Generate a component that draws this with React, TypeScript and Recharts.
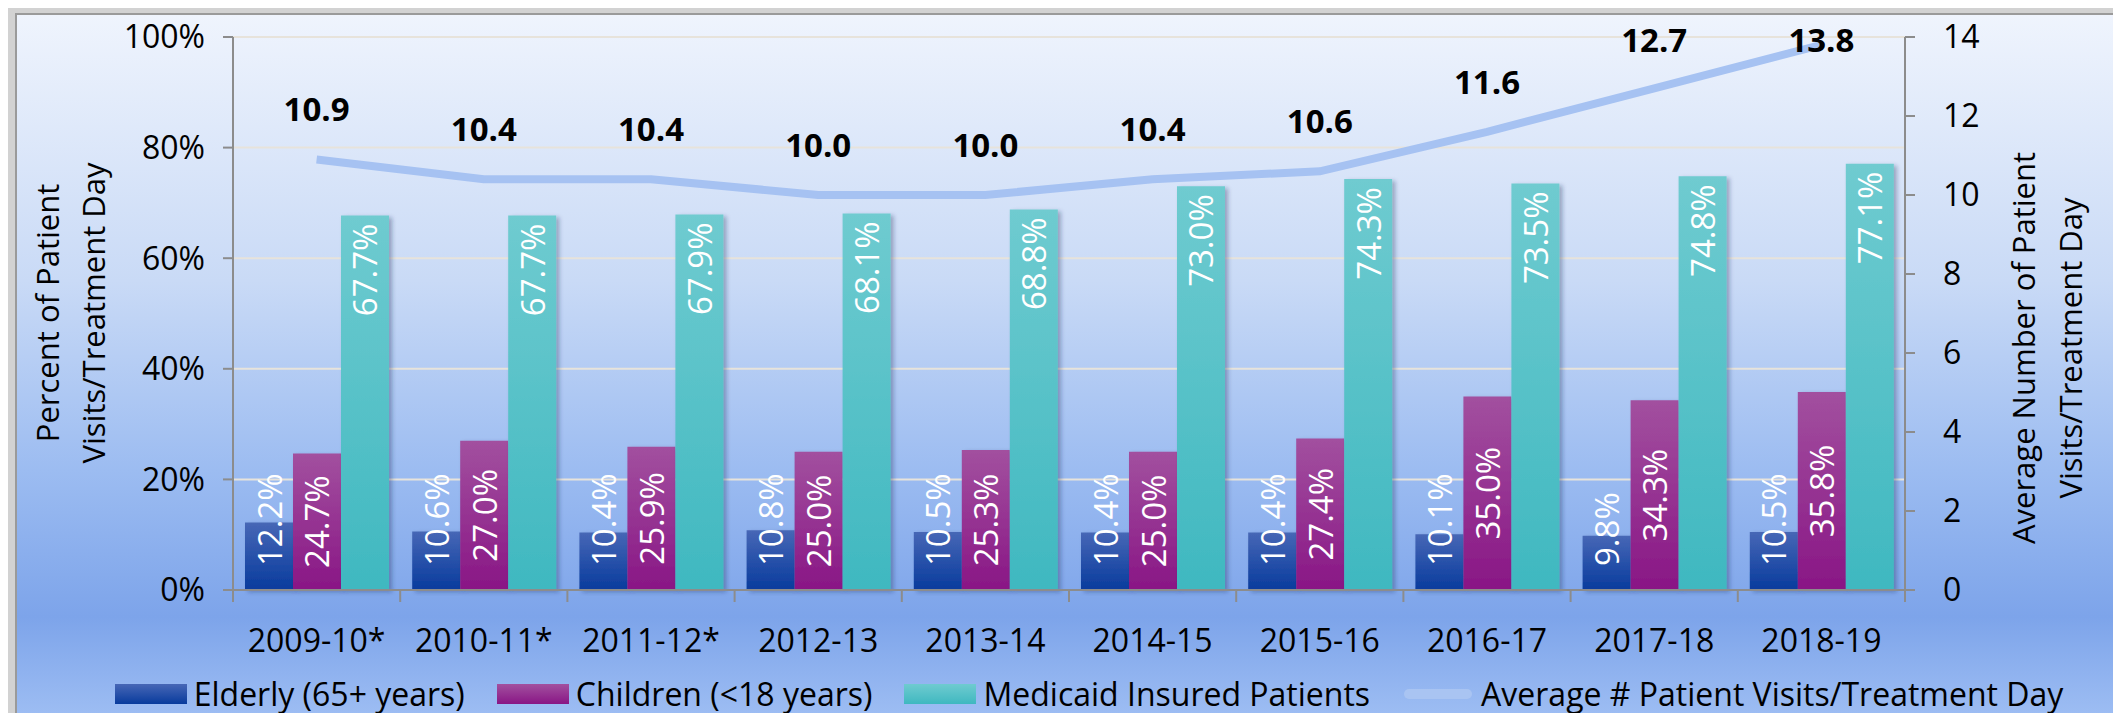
import { Bar, CartesianGrid, ComposedChart, LabelList, Legend, Line, XAxis, YAxis } from 'recharts';

const years = ['2009-10*', '2010-11*', '2011-12*', '2012-13', '2013-14', '2014-15', '2015-16', '2016-17', '2017-18', '2018-19'];
const elderly = [12.2, 10.6, 10.4, 10.8, 10.5, 10.4, 10.4, 10.1, 9.8, 10.5];
const children = [24.7, 27.0, 25.9, 25.0, 25.3, 25.0, 27.4, 35.0, 34.3, 35.8];
const medicaid = [67.7, 67.7, 67.9, 68.1, 68.8, 73.0, 74.3, 73.5, 74.8, 77.1];
const avgVisits = [10.9, 10.4, 10.4, 10.0, 10.0, 10.4, 10.6, 11.6, 12.7, 13.8];
const pctTicks = [0, 20, 40, 60, 80, 100];
const visitTicks = [0, 2, 4, 6, 8, 10, 12, 14];

const legendItems = [
  { name: 'Elderly (65+ years)', fill: 'url(#gElderly)', kind: 'bar' },
  { name: 'Children (<18 years)', fill: 'url(#gChildren)', kind: 'bar' },
  { name: 'Medicaid Insured Patients', fill: 'url(#gMedicaid)', kind: 'bar' },
  { name: 'Average # Patient Visits/Treatment Day', fill: '#a9c4f2', kind: 'line' },
];

const data = years.map((year, i) => ({
  year,
  elderly: elderly[i],
  children: children[i],
  medicaid: medicaid[i],
  visits: avgVisits[i],
}));

const FONT = '"Open Sans", "Noto Sans", sans-serif';
const AXIS = '#8c8c8c';
const BAND = 1672 / years.length;

function BarText(props: any) {
  const { x, y, width, height, value, pos } = props;
  const cx = x + width / 2;
  const bottom = y + height;
  let ty = bottom - 24;
  let anchor = 'start';
  if (pos === 'center') {
    ty = y + height / 2;
    anchor = 'middle';
  } else if (pos === 'end') {
    ty = y + 8;
    anchor = 'end';
  }
  return (
    <text
      x={cx}
      y={ty}
      transform={`rotate(-90, ${cx}, ${ty})`}
      textAnchor={anchor}
      dominantBaseline="central"
      fill="#fff"
      fontSize={33}
      fontFamily={FONT}
    >
      {`${Number(value).toFixed(1)}%`}
    </text>
  );
}

function LineText(props: any) {
  const { x, y, value } = props;
  const ty = Math.max(y - 38, 37);
  return (
    <text x={x} y={ty} textAnchor="middle" fontSize={33} fontWeight={700} fontFamily={FONT} fill="#000">
      {Number(value).toFixed(1)}
    </text>
  );
}

function CategoryTick(props: any) {
  const { x, y, payload, index } = props;
  const half = BAND / 2;
  return (
    <g>
      <line x1={x - half} x2={x - half} y1={y} y2={y + 12} stroke={AXIS} strokeWidth={2} />
      {index === years.length - 1 && <line x1={x + half} x2={x + half} y1={y} y2={y + 12} stroke={AXIS} strokeWidth={2} />}
      <text x={x} y={y + 62} textAnchor="middle" fontSize={32} fontFamily={FONT} fill="#000">
        {payload.value}
      </text>
    </g>
  );
}

function AxisTitle({ viewBox, lines, dx, cy }: any) {
  return (
    <g>
      {lines.map((t: string, i: number) => {
        const x = viewBox.x + dx[i];
        return (
          <text
            key={t}
            x={x}
            y={cy}
            transform={`rotate(-90, ${x}, ${cy})`}
            textAnchor="middle"
            dominantBaseline="central"
            fontSize={31}
            fontFamily={FONT}
            fill="#000"
          >
            {t}
          </text>
        );
      })}
    </g>
  );
}

function LegendBox() {
  return (
    <div style={{ display: 'flex', justifyContent: 'center', alignItems: 'center', paddingLeft: 80, paddingTop: 14, fontFamily: FONT, fontSize: 32, color: '#000' }}>
      {legendItems.map((it) => (
        <div key={it.name} style={{ display: 'flex', alignItems: 'center', marginRight: 32 }}>
          <svg width={72} height={22} style={{ marginRight: 7 }}>
            {it.kind === 'bar' ? (
              <rect x={0} y={1} width={72} height={20} fill={it.fill} />
            ) : (
              <rect x={2} y={6} width={68} height={10} rx={5} fill={it.fill} />
            )}
          </svg>
          <span style={{ whiteSpace: 'nowrap' }}>{it.name}</span>
        </div>
      ))}
    </div>
  );
}

export default function App() {
  return (
    <div style={{ position: 'relative', width: 2105, height: 705, background: '#d2d2d2' }}>
      <div
        style={{
          position: 'absolute',
          left: 7,
          top: 5,
          width: 2098,
          height: 700,
          borderTop: '2px solid #9a9a9a',
          borderLeft: '2px solid #9a9a9a',
          background: 'linear-gradient(180deg, #eff4fd 0%, #c9daf6 38%, #9cbcf1 65%, #7da4ea 86%, #9dbdf3 100%)',
        }}
      >
        <ComposedChart
          width={2096}
          height={698}
          data={data}
          margin={{ top: 22, right: 0, bottom: 0, left: 0 }}
          barGap={0}
          barSize={48}
        >
          <defs>
            <linearGradient id="gElderly" x1="0" y1="0" x2="0" y2="1">
              <stop offset="0%" stopColor="#4767b6" />
              <stop offset="100%" stopColor="#083b9d" />
            </linearGradient>
            <linearGradient id="gChildren" x1="0" y1="0" x2="0" y2="1">
              <stop offset="0%" stopColor="#a2509f" />
              <stop offset="100%" stopColor="#891685" />
            </linearGradient>
            <linearGradient id="gMedicaid" x1="0" y1="0" x2="0" y2="1">
              <stop offset="0%" stopColor="#6fcbd0" />
              <stop offset="100%" stopColor="#3fb8c0" />
            </linearGradient>
            <filter id="shadow" x="-20%" y="-10%" width="150%" height="120%">
              <feDropShadow dx="3" dy="2" stdDeviation="2" floodColor="#1a2a55" floodOpacity="0.35" />
            </filter>
          </defs>
          <CartesianGrid yAxisId="left" vertical={false} stroke="#e7e3db" strokeWidth={2} />
          <XAxis
            dataKey="year"
            height={68}
            tickLine={false}
            tickSize={0}
            tickMargin={0}
            axisLine={{ stroke: AXIS, strokeWidth: 2 }}
            tick={<CategoryTick />}
            interval={0}
          />
          <YAxis
            yAxisId="left"
            width={216}
            domain={[0, 100]}
            ticks={pctTicks}
            tickFormatter={(v) => `${v}%`}
            tickSize={10}
            tickMargin={18}
            axisLine={{ stroke: AXIS, strokeWidth: 2 }}
            tickLine={{ stroke: AXIS, strokeWidth: 2 }}
            tick={{ fontSize: 32, fontFamily: FONT, fill: '#000' }}
            label={{ content: (p: any) => <AxisTitle viewBox={p.viewBox} lines={['Percent of Patient', 'Visits/Treatment Day']} dx={[30, 76]} cy={298} /> }}
          />
          <YAxis
            yAxisId="right"
            orientation="right"
            width={208}
            domain={[0, 14]}
            ticks={visitTicks}
            tickSize={10}
            tickMargin={28}
            axisLine={{ stroke: AXIS, strokeWidth: 2 }}
            tickLine={{ stroke: AXIS, strokeWidth: 2 }}
            tick={{ fontSize: 32, fontFamily: FONT, fill: '#000', textAnchor: 'start' }}
            label={{ content: (p: any) => <AxisTitle viewBox={p.viewBox} lines={['Average Number of Patient', 'Visits/Treatment Day']} dx={[118, 165]} cy={333} /> }}
          />
          <Legend verticalAlign="bottom" height={55} content={() => <LegendBox />} />
          <Bar yAxisId="left" dataKey="elderly" name="Elderly (65+ years)" fill="url(#gElderly)" filter="url(#shadow)" isAnimationActive={false}>
            <LabelList dataKey="elderly" content={(p: any) => <BarText {...p} pos="base" />} />
          </Bar>
          <Bar yAxisId="left" dataKey="children" name="Children (<18 years)" fill="url(#gChildren)" filter="url(#shadow)" isAnimationActive={false}>
            <LabelList dataKey="children" content={(p: any) => <BarText {...p} pos="center" />} />
          </Bar>
          <Bar yAxisId="left" dataKey="medicaid" name="Medicaid Insured Patients" fill="url(#gMedicaid)" filter="url(#shadow)" isAnimationActive={false}>
            <LabelList dataKey="medicaid" content={(p: any) => <BarText {...p} pos="end" />} />
          </Bar>
          <Line
            yAxisId="right"
            type="linear"
            dataKey="visits"
            name="Average # Patient Visits/Treatment Day"
            stroke="#a6c2f2"
            strokeWidth={8}
            dot={false}
            activeDot={false}
            isAnimationActive={false}
          >
            <LabelList dataKey="visits" content={(p: any) => <LineText {...p} />} />
          </Line>
        </ComposedChart>
      </div>
    </div>
  );
}
